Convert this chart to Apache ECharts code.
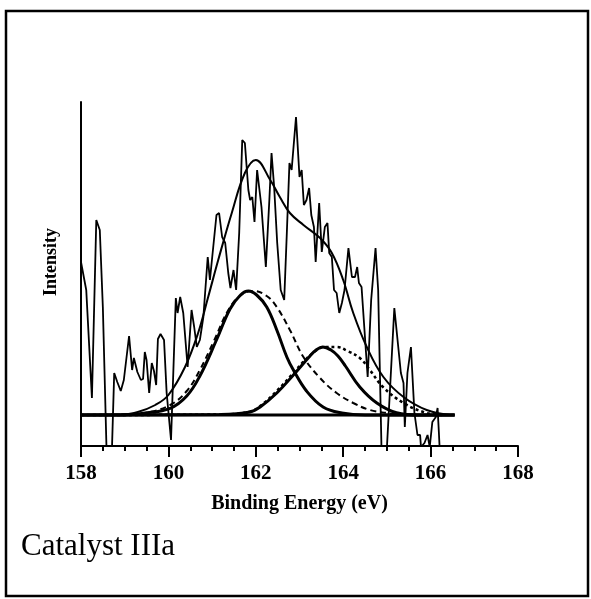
<!DOCTYPE html>
<html>
<head>
<meta charset="utf-8">
<script src="https://cdn.jsdelivr.net/npm/echarts@6/dist/echarts.min.js"></script>
<style>
html,body{margin:0;padding:0;background:#fff;}
#chart{width:591px;height:599px;}
</style>
</head>
<body>
<div id="chart"></div>
<script>
// X axis ticks
var xMin = 158, xMax = 168, xStep = 2;
var xAxisTitle = 'Binding Energy (eV)';
var yAxisTitle = 'Intensity';
var caption = 'Catalyst IIIa';

// Raw spectrum (binding energy, intensity in arbitrary units)
var rawX = [158.00,158.12,158.25,158.35,158.43,158.50,158.60,158.69,158.76,158.83,158.91,158.98,
  159.10,159.17,159.21,159.29,159.37,159.42,159.46,159.50,159.56,159.62,159.67,159.72,159.76,159.82,159.90,159.96,
  160.06,160.17,160.21,160.27,160.34,160.44,160.53,160.59,160.65,160.72,160.80,160.90,160.95,
  161.10,161.16,161.23,161.30,161.37,161.42,161.49,161.55,161.62,161.69,161.75,161.83,161.87,161.92,161.97,
  162.03,162.13,162.23,162.31,162.36,162.42,162.49,162.57,162.65,162.71,162.77,162.82,162.92,
  163.00,163.05,163.10,163.16,163.22,163.27,163.33,163.37,163.45,163.51,163.58,163.64,163.68,163.74,163.79,163.85,163.91,163.97,
  164.03,164.12,164.20,164.27,164.32,164.36,164.42,164.56,164.64,164.74,164.80,164.88,164.99,
  165.17,165.32,165.38,165.41,165.47,165.55,165.63,165.70,165.76,165.78,165.86,165.93,165.98,
  166.04,166.12,166.16,166.19,166.21];
var rawY = [184,156,48,226,216,139,-30,-30,73,64,55,66,
  110,76,88,74,66,67,94,86,53,83,75,61,107,112,106,53,
  6,148,133,149,133,79,136,119,99,106,129,189,166,
  231,233,209,203,173,158,176,156,213,306,303,256,246,249,224,
  276,239,179,246,293,259,203,156,146,213,283,276,329,
  269,276,241,246,258,231,219,184,243,194,219,223,193,189,156,153,133,143,
  156,198,169,169,179,163,159,69,146,198,156,-10,-10,
  138,73,63,19,73,99,33,11,11,-1,3,11,-1,
  24,29,38,13,-5];

// Envelope fit
var envX = [158.90,159.30,159.70,160.00,160.38,160.68,160.91,161.14,161.45,161.75,162.00,162.33,162.55,162.78,163.09,163.47,163.74,164.00,164.23,164.54,164.92,165.38,165.91,166.44];
var envY = [31,34,41,51,79,113,149,186,233,273,286,266,249,233,221,208,193,166,133,99,69,49,36,31];

// Component 1 (solid)
var c1X = [158.00,158.97,159.43,160.04,160.42,160.72,161.10,161.41,161.65,161.83,162.02,162.25,162.48,162.71,162.86,163.16,163.54,163.97,164.50,166.55];
var c1Y = [31,31,32.7,37.7,50,70,106,137,151,155,151,139,116,89,76,55,39,33,31,31];

// Component 1 (dashed)
var c1dX = [158.00,159.00,159.50,160.04,160.42,160.72,161.03,161.40,161.70,161.94,162.25,162.48,162.78,163.09,163.47,163.85,164.23,164.61,165.00,165.40];
var c1dY = [31,31.5,33.3,41,55,76,104,138,152,155,150,139,116,89,68,53,43,36,33,31];

// Component 2 (solid)
var c2X = [158.00,161.20,161.87,162.10,162.48,162.86,163.24,163.38,163.53,163.72,163.88,164.05,164.38,164.77,165.22,165.76,166.55];
var c2Y = [31,31.5,34,39,53,71,90,96,99,96,90,80,59,43,33.3,31,31];

// Component 2 (dotted)
var c2dX = [158.00,161.20,161.87,162.10,162.48,162.86,163.13,163.40,163.60,163.85,164.10,164.38,164.61,164.91,165.38,165.91,166.30];
var c2dY = [31,31.5,34.5,40,55,73,86,96,99,99,95,88,76,59,43,33,31];

// Baseline
var baseX = [158.00,166.55];
var baseY = [31,31];

function pairs(xs, ys){ return xs.map(function(x,i){ return [x, ys[i]]; }); }

var chart = echarts.init(document.getElementById('chart'));

chart.setOption({
  animation:false,
  backgroundColor:'#fff',
  grid:{left:81, top:102, width:437, height:344, containLabel:false},
  xAxis:{
    type:'value', min:xMin, max:xMax, interval:xStep,
    axisLine:{show:true, onZero:false, lineStyle:{color:'#000', width:2}},
    axisTick:{show:true, inside:false, length:11, lineStyle:{color:'#000', width:2}},
    minorTick:{show:true, splitNumber:4, length:5, lineStyle:{color:'#000', width:2}},
    splitLine:{show:false},
    axisLabel:{show:true, margin:17, fontSize:21, fontFamily:'Liberation Serif', fontWeight:'bold', color:'#000'},
    name:xAxisTitle, nameLocation:'middle', nameGap:48,
    nameTextStyle:{fontSize:20, fontFamily:'Liberation Serif', fontWeight:'bold', color:'#000'}
  },
  yAxis:{
    type:'value', min:0, max:344,
    axisLine:{show:true, onZero:false, lineStyle:{color:'#000', width:2}},
    axisTick:{show:false}, axisLabel:{show:false}, splitLine:{show:false}
  },
  graphic:[
    {type:'rect', shape:{x:6, y:11, width:582, height:585}, style:{fill:'none', stroke:'#000', lineWidth:2.5}, silent:true},
    {type:'text', x:51, y:262, rotation:Math.PI/2,
      style:{text:yAxisTitle, textAlign:'center', textVerticalAlign:'middle', fontSize:18, fontFamily:'Liberation Serif', fontWeight:'bold', fill:'#000'}},
    {type:'text', x:21, y:547,
      style:{text:caption, textAlign:'left', textVerticalAlign:'middle', fontSize:31, fontFamily:'Liberation Serif', fill:'#000'}}
  ],
  series:[
    {type:'line', data:pairs(baseX, baseY), showSymbol:false, lineStyle:{color:'#000', width:3}},
    {type:'line', data:pairs(c1dX, c1dY), showSymbol:false, smooth:0.4, lineStyle:{color:'#000', width:2, type:[6,4]}},
    {type:'line', data:pairs(c2dX, c2dY), showSymbol:false, smooth:0.4, lineStyle:{color:'#000', width:2.5, type:[3,3]}},
    {type:'line', data:pairs(c1X, c1Y), showSymbol:false, smooth:0.4, lineStyle:{color:'#000', width:3}},
    {type:'line', data:pairs(c2X, c2Y), showSymbol:false, smooth:0.4, lineStyle:{color:'#000', width:3}},
    {type:'line', data:pairs(envX, envY), showSymbol:false, smooth:0.4, lineStyle:{color:'#000', width:2}},
    {type:'line', data:pairs(rawX, rawY), showSymbol:false, clip:true, lineStyle:{color:'#000', width:1.8}}
  ]
});
</script>
</body>
</html>
